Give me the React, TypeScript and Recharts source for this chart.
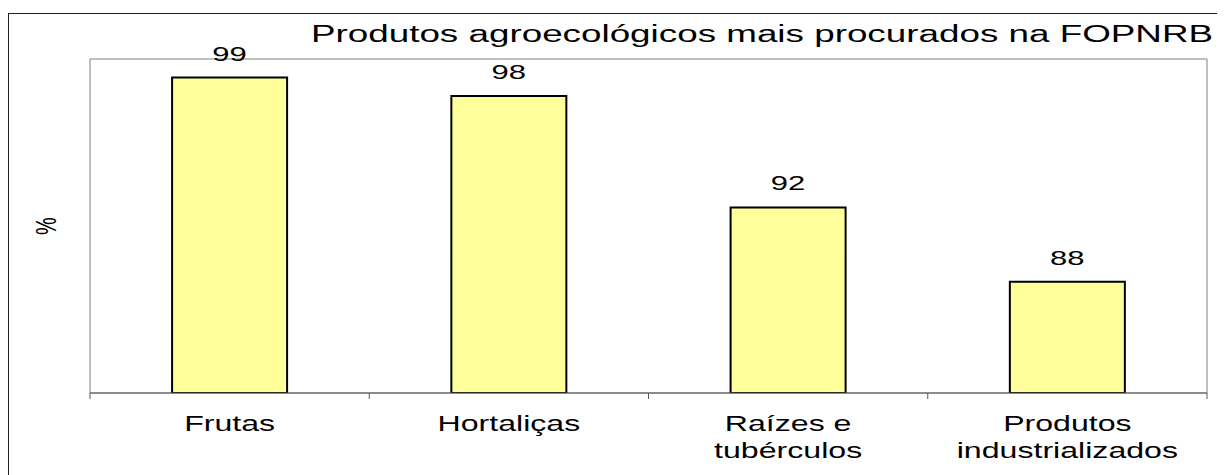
import React from 'react';
import {
  BarChart,
  Bar,
  XAxis,
  YAxis,
  CartesianGrid,
  LabelList,
} from 'recharts';

// Categories and values
const categories = ['Frutas', 'Hortaliças', 'Raízes e\ntubérculos', 'Produtos\nindustrializados'];
const percentages = [99, 98, 92, 88];
const yDomain: [number, number] = [82, 100];

const data = categories.map((name, i) => ({ name, value: percentages[i] }));

const FONT = '"Liberation Sans", Arial, sans-serif';
const CHART_W = 1217;
const CHART_H = 467;
const MARGIN = { top: 51, right: 18, left: 0, bottom: 0 };
const Y_W = 82;
const X_H = 82;
const BAND = (CHART_W - MARGIN.right - Y_W) / categories.length;

// category label + tick marks at the band boundaries
const CategoryTick = (props: any) => {
  const { x, y, payload, index } = props;
  const half = payload && typeof payload.offset === 'number' && payload.offset > 0 ? payload.offset : BAND / 2;
  const lines = String(payload.value).split('\n');
  return (
    <g>
      <line x1={x - half} x2={x - half} y1={y} y2={y + 6} stroke="#595959" strokeWidth={1} />
      {index === categories.length - 1 && (
        <line x1={x + half} x2={x + half} y1={y} y2={y + 6} stroke="#595959" strokeWidth={1} />
      )}
      <text
        transform={`translate(${x},${y + 38}) scale(1.46,1)`}
        textAnchor="middle"
        fontSize={22}
        fontFamily={FONT}
        fill="#000"
      >
        {lines.map((l, i) => (
          <tspan key={i} x={0} dy={i === 0 ? 0 : 27}>
            {l}
          </tspan>
        ))}
      </text>
    </g>
  );
};

const ValueLabel = (props: any) => {
  const { x, y, width, value } = props;
  const cx = Number(x) + Number(width) / 2;
  return (
    <text
      transform={`translate(${cx},${Number(y) - 17}) scale(1.55,1)`}
      textAnchor="middle"
      fontSize={20}
      fontFamily={FONT}
      fill="#000"
    >
      {value}
    </text>
  );
};

const PercentLabel = (props: any) => {
  const vb = props.viewBox || { x: 0, y: MARGIN.top, width: Y_W, height: 334 };
  const cy = vb.y + vb.height / 2;
  return (
    <text
      transform={`translate(${vb.x + 37},${cy}) scale(1.5,1) rotate(-90)`}
      textAnchor="middle"
      dominantBaseline="central"
      fontSize={20}
      fontFamily={FONT}
      fill="#000"
    >
      %
    </text>
  );
};

export default function App() {
  return (
    <div style={{ position: 'relative', width: CHART_W, height: CHART_H, overflow: 'hidden', background: '#fff' }}>
      <div
        style={{
          position: 'absolute',
          left: 0,
          top: 5,
          width: CHART_W + 40,
          height: CHART_H + 40,
          border: '1px solid #222',
          boxSizing: 'border-box',
        }}
      />
      <BarChart
        width={CHART_W}
        height={CHART_H}
        data={data}
        margin={MARGIN}
        barCategoryGap="29.4%"
        style={{ position: 'absolute', left: 0, top: 0 }}
      >
        <CartesianGrid
          stroke="#808080"
          strokeWidth={1}
          horizontalCoordinatesGenerator={(args: any) => {
            const o = args && args.offset;
            return o ? [o.top, o.top + o.height] : [MARGIN.top, CHART_H - X_H];
          }}
          verticalCoordinatesGenerator={(args: any) => {
            const o = args && args.offset;
            return o ? [o.left, o.left + o.width] : [Y_W, CHART_W - MARGIN.right];
          }}
        />
        <XAxis
          dataKey="name"
          height={X_H}
          tickLine={false}
          tickSize={0}
          tickMargin={0}
          interval={0}
          axisLine={{ stroke: '#595959', strokeWidth: 1 }}
          tick={<CategoryTick />}
        />
        <YAxis
          width={Y_W}
          domain={yDomain}
          allowDataOverflow
          tick={false}
          tickLine={false}
          axisLine={false}
          label={{ content: <PercentLabel /> }}
        />
        <Bar dataKey="value" fill="#FFFF99" stroke="#000" strokeWidth={2} isAnimationActive={false}>
          <LabelList dataKey="value" content={<ValueLabel />} />
        </Bar>
      </BarChart>
      <div
        style={{
          position: 'absolute',
          left: 353.5,
          top: 15,
          width: 800,
          textAlign: 'center',
          fontFamily: FONT,
          fontSize: 23,
          lineHeight: '23px',
          color: '#000',
          whiteSpace: 'nowrap',
          transform: 'scaleX(1.6)',
          transformOrigin: 'center',
        }}
      >
        Produtos agroecológicos mais procurados na FOPNRB
      </div>
    </div>
  );
}
